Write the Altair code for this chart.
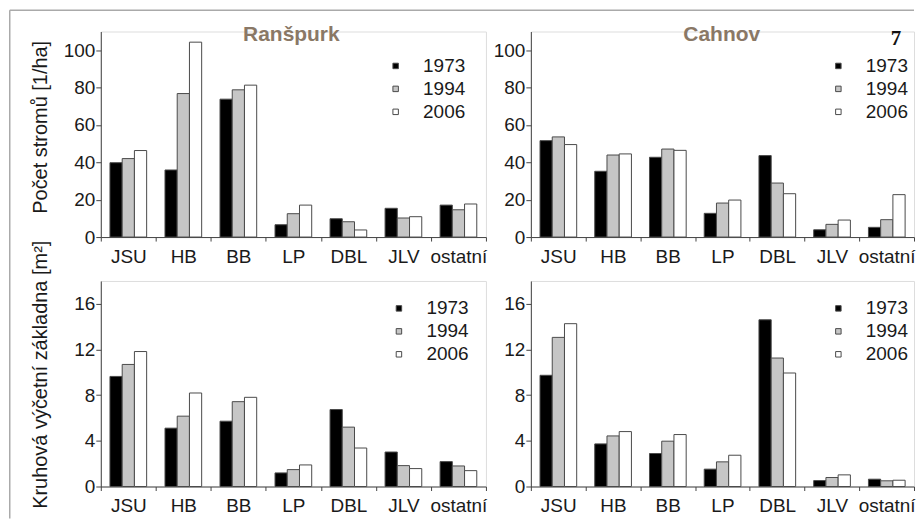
import altair as alt
import pandas as pd

species = ["JSU", "HB", "BB", "LP", "DBL", "JLV", "ostatní"]
years = ["1973", "1994", "2006"]

# Ranšpurk – number of trees [1/ha]
ran_n_1973 = [39.8, 35.9, 73.8, 6.6, 9.8, 15.4, 17.1]
ran_n_1994 = [42.0, 76.8, 78.8, 12.5, 8.2, 10.2, 14.6]
ran_n_2006 = [46.3, 104.3, 81.3, 17.1, 3.8, 10.9, 17.7]

# Cahnov – number of trees [1/ha]
cah_n_1973 = [51.6, 35.2, 42.7, 12.7, 43.6, 3.9, 5.2]
cah_n_1994 = [53.6, 43.9, 47.1, 18.2, 28.9, 6.8, 9.3]
cah_n_2006 = [49.5, 44.5, 46.4, 19.8, 23.2, 9.1, 22.7]

# Ranšpurk – basal area [m2]
ran_g_1973 = [9.64, 5.11, 5.72, 1.19, 6.74, 3.02, 2.18]
ran_g_1994 = [10.69, 6.16, 7.43, 1.48, 5.20, 1.83, 1.80]
ran_g_2006 = [11.82, 8.19, 7.81, 1.89, 3.37, 1.57, 1.39]

# Cahnov – basal area [m2]
cah_g_1973 = [9.74, 3.73, 2.89, 1.52, 14.60, 0.52, 0.64]
cah_g_1994 = [13.06, 4.43, 3.97, 2.16, 11.25, 0.79, 0.50]
cah_g_2006 = [14.26, 4.81, 4.55, 2.74, 9.94, 1.02, 0.55]

panel_titles = ["Ranšpurk", "Cahnov"]
y_titles = ["Počet stromů [1/ha]", "Kruhová výčetní základna [m²]"]
count_ticks = [0, 20, 40, 60, 80, 100]
area_ticks = [0, 4, 8, 12, 16]
figure_number = ["7"]

FONT = "Liberation Sans"
TXT = "#1a1a1a"
AX = "#444444"


def long_df(a, b, c):
    rows = []
    for yr, vals in zip(years, [a, b, c]):
        for sp, v in zip(species, vals):
            rows.append({"species": sp, "year": yr, "value": v})
    return pd.DataFrame(rows)


def panel(df, ymax, yticks, width, legend_x, legend_y, ytitle=None, title_x=0, title_y=0):
    yaxis_kw = dict(values=yticks, tickSize=5, labelPadding=1, labelFontSize=19,
                    labelFont=FONT, labelColor=TXT, domainColor=AX, tickColor=AX,
                    grid=False)
    if ytitle is not None:
        yaxis_kw.update(title=ytitle, titleFont=FONT, titleFontSize=20,
                        titleFontWeight="normal", titleColor=TXT, titleAngle=270,
                        titleX=title_x, titleY=title_y, titleAlign="center",
                        titleBaseline="alphabetic")
    else:
        yaxis_kw.update(title=None)
    bars = alt.Chart(df).mark_bar(stroke="#4a4a4a", strokeWidth=1).encode(
        x=alt.X("species:N", sort=species,
                scale=alt.Scale(paddingInner=0, paddingOuter=0),
                axis=alt.Axis(title=None, labelAngle=0, tickBand="extent", tickSize=4,
                              labelPadding=6, labelFontSize=19, labelFont=FONT,
                              labelColor=TXT, domainColor=AX, tickColor=AX)),
        xOffset=alt.XOffset("year:N", sort=years,
                            scale=alt.Scale(paddingInner=0, paddingOuter=0.75)),
        y=alt.Y("value:Q", scale=alt.Scale(domain=[0, ymax], nice=False),
                axis=alt.Axis(**yaxis_kw)),
        fill=alt.Fill("year:N", sort=years,
                      scale=alt.Scale(domain=years, range=["#000000", "#c6c6c6", "#ffffff"]),
                      legend=alt.Legend(title=None, orient="none", legendX=legend_x,
                                        legendY=legend_y, direction="vertical",
                                        symbolType="square", symbolSize=30,
                                        symbolStrokeColor="#4a4a4a", symbolStrokeWidth=1,
                                        labelFontSize=19, labelFont=FONT, labelColor=TXT,
                                        labelOffset=18, rowPadding=3, padding=0)),
    ).properties(width=width, height=206)
    return bars


def title_text(txt, x, y):
    return alt.Chart(pd.DataFrame({"t": [txt]})).mark_text(
        font=FONT, fontSize=21, fontWeight="bold", color="#8a7866",
        align="center", baseline="alphabetic"
    ).encode(text="t:N", x=alt.value(x), y=alt.value(y))


frame_data = pd.DataFrame({"k": [0]})
frame_v = alt.Chart(frame_data).mark_rule(color="#aaaaaa", strokeWidth=1.5).encode(
    x=alt.value(-91.25), y=alt.value(-21.25), y2=alt.value(488))
frame_h = alt.Chart(frame_data).mark_rule(color="#aaaaaa", strokeWidth=1.5).encode(
    x=alt.value(-91.25), x2=alt.value(815), y=alt.value(-21.25))

tl = alt.layer(
    panel(long_df(ran_n_1973, ran_n_1994, ran_n_2006), 110, count_ticks, 386, 286, 25,
          ytitle=y_titles[0], title_x=-54.5, title_y=95.5),
    title_text(panel_titles[0], 191, 9.5),
    frame_v, frame_h,
)

num = alt.Chart(pd.DataFrame({"t": figure_number})).mark_text(
    font="Liberation Serif", fontSize=21, fontWeight="bold", color="#111111",
    align="center", baseline="alphabetic"
).encode(text="t:N", x=alt.value(366), y=alt.value(14))

tr = alt.layer(
    panel(long_df(cah_n_1973, cah_n_1994, cah_n_2006), 110, count_ticks, 384, 298.7, 25),
    title_text(panel_titles[1], 191.3, 9.5),
    num,
)

bl = panel(long_df(ran_g_1973, ran_g_1994, ran_g_2006), 18, area_ticks, 386, 289.3, 18,
           ytitle=y_titles[1], title_x=-54, title_y=93.5)

br = panel(long_df(cah_g_1973, cah_g_1994, cah_g_2006), 18, area_ticks, 384, 298.7, 18)

chart = alt.concat(
    tl, tr, bl, br, columns=2, bounds="flush", spacing={"row": 44, "column": 45}
).resolve_scale(y="independent", x="independent", fill="independent").resolve_legend(
    fill="independent"
).properties(padding=0).configure_view(stroke=None).configure(font=FONT, background="white")

chart.save("out.html", embed_options={"renderer": "svg", "actions": False})
